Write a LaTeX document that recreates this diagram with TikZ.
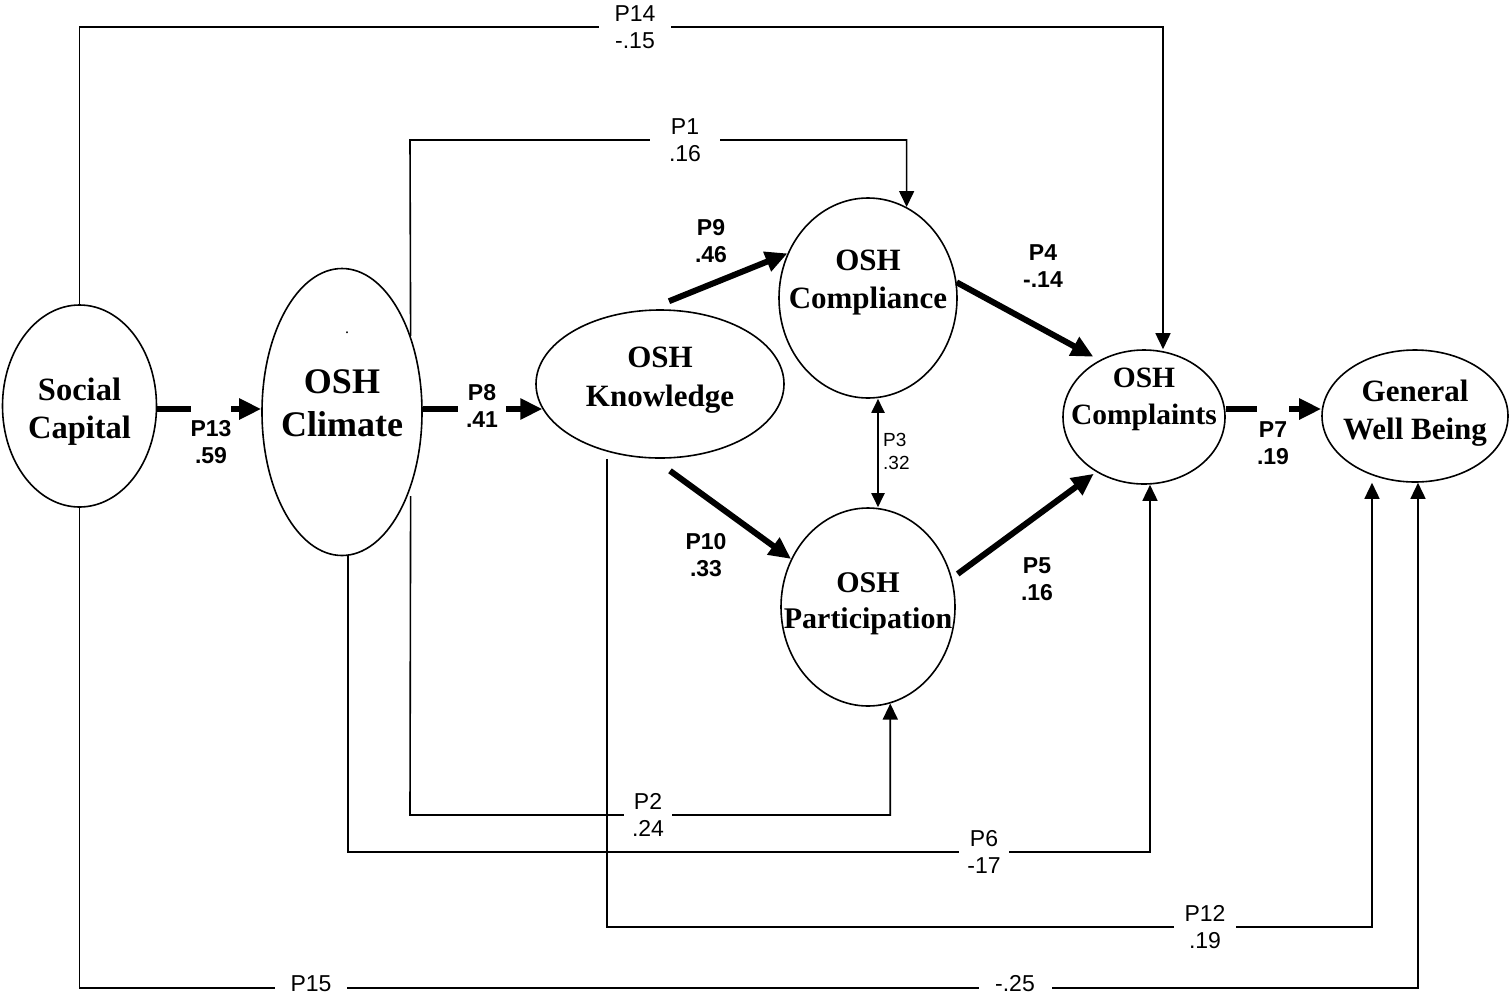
\documentclass[tikz,border=0pt]{standalone}
\usepackage{fontspec}
\setmainfont{Liberation Serif}
\newfontfamily\labfont{Liberation Sans}
\usetikzlibrary{arrows.meta,shapes.geometric,calc}

\tikzset{
  construct/.style={draw, ellipse, line width=1.6pt, inner sep=0pt},
  ctext/.style={font=\bfseries, align=center},
  thin/.style={line width=1.6pt},
  thinarrow/.style={thin, -{Triangle[length=16pt,width=15pt]}},
  thickarrow/.style={line width=6pt, -{Triangle[length=22pt,width=20pt]}},
  twoway/.style={line width=2pt, {Triangle[length=14pt,width=13pt]}-{Triangle[length=14pt,width=13pt]}},
  plab/.style={font=\labfont\fontsize{23pt}{27pt}\selectfont, align=center, fill=white, inner ysep=1pt},
  blab/.style={font=\labfont\bfseries\fontsize{23pt}{27pt}\selectfont, align=center, inner sep=0pt},
}

\begin{document}
\begin{tikzpicture}[x=1pt, y=-1pt]
\useasboundingbox (0,0) rectangle (1510,997);

% constructs
\node[construct, minimum width=154pt, minimum height=202pt,
  label={[ctext, font=\bfseries\fontsize{32.5pt}{38pt}\selectfont, yshift=-6pt]center:Social\\Capital}] (sc) at (79.5,406) {};
\node[construct, minimum width=160pt, minimum height=287pt,
  label={[ctext, font=\bfseries\fontsize{36pt}{43pt}\selectfont, yshift=9pt]center:OSH\\Climate}] (cl) at (342,412) {};
\node[font=\fontsize{16pt}{16pt}\selectfont, inner sep=0pt] (cldot) at (347,333) {.};
\node[construct, minimum width=248pt, minimum height=148pt,
  label={[ctext, font=\bfseries\fontsize{31pt}{39pt}\selectfont, yshift=4pt]center:OSH\\Knowledge}] (kn) at (660,384) {};
\node[construct, minimum width=178pt, minimum height=200pt,
  label={[ctext, font=\bfseries\fontsize{31pt}{38pt}\selectfont, yshift=15pt]center:OSH\\Compliance}] (cp) at (868,298) {};
\node[construct, minimum width=174pt, minimum height=198pt,
  label={[ctext, font=\bfseries\fontsize{30pt}{36pt}\selectfont, yshift=3pt]center:OSH\\Participation}] (pa) at (868,607) {};
\node[construct, minimum width=162pt, minimum height=134pt,
  label={[ctext, font=\bfseries\fontsize{29.5pt}{37pt}\selectfont, yshift=18pt]center:OSH\\Complaints}] (ck) at (1144,417) {};
\node[construct, minimum width=186pt, minimum height=132pt,
  label={[ctext, font=\bfseries\fontsize{31pt}{38pt}\selectfont, yshift=3pt]center:General\\Well Being}] (gw) at (1415,416) {};

% main chain
\draw[thickarrow] (sc.east |- 0,409) -- (cl.west |- 0,409);
\draw[thickarrow] (cl.east |- kn.192) -- (kn.192);
\draw[thickarrow] (ck.east |- 0,409) -- (gw.west |- 0,409);
\draw[thickarrow] ($(kn.north)+(9,-8)$) -- (cp.151);
\draw[thickarrow] ($(kn.south)+(10,12)$) -- (pa.148);
\draw[thickarrow, shorten >=7pt] (cp.10) -- (ck.128);
\draw[thickarrow, shorten <=7pt, shorten >=3pt] (pa.19) -- (ck.229);
\draw[twoway] (878,0 |- cp.south) -- (878,0 |- pa.north);

% long paths
\draw[thinarrow] (sc.north) -- (sc.north |- 0,27) -- (1163,27) -- (1163,0 |- ck.north);
\draw[thinarrow] (cl.48) -- (410,140) -- (cp.67.6 |- 0,140) -- (cp.67.6);
\draw[thinarrow] ([yshift=-8pt]cl.-48) -- (410,815) -- (pa.-77.1 |- 0,815) -- (pa.-77.1);
\draw[thinarrow] ([xshift=6pt]cl.south) -- ([xshift=6pt]cl.south |- 0,852) -- (1150,852) -- (1150,0 |- ck.south);
\draw[thinarrow] (kn.south -| 607,0) -- (607,927) -- (1372,927) -- (1372,0 |- gw.south);
\draw[thinarrow] (sc.south) -- (sc.south |- 0,988) -- (1418,988) -- (1418,0 |- gw.south);

% coefficients on the long paths
\node[plab, minimum width=72pt] (l14) at (635,27) {P14\\-.15};
\node[plab, minimum width=70pt] (l1) at (685,140) {P1\\.16};
\node[plab, minimum width=48pt] (l2) at (648,815) {P2\\.24};
\node[plab, minimum width=50pt] (l6) at (984,852) {P6\\-17};
\node[plab, minimum width=62pt] (l12) at (1205,927) {P12\\.19};
\node[plab, minimum width=72pt, anchor=base, inner ysep=4pt] (l15) at (311,991) {P15};
\node[plab, minimum width=73pt, anchor=base, inner ysep=4pt] (l15b) at (1015,991) {-.25};

% coefficients on the main chain
\node[blab, fill=white, anchor=north, inner ysep=16pt] (l13) at (211,404) {P13\\.59};
\node[blab, fill=white, inner xsep=8pt, inner ysep=1pt] (l8) at (482,406) {P8\\.41};
\node[blab, fill=white, anchor=north, inner ysep=17pt] (l7) at (1273,404) {P7\\.19};
\node[blab] (l9) at (711,241) {P9\\.46};
\node[blab] (l10) at (706,555) {P10\\.33};
\node[blab] (l4) at (1043,266) {P4\\-.14};
\node[blab] (l5) at (1037,579) {P5\\.16};
\node[font=\labfont\fontsize{19pt}{23pt}\selectfont, align=left, anchor=west, inner sep=0pt] (l3) at (883,451) {P3\\.32};
\end{tikzpicture}
\end{document}
